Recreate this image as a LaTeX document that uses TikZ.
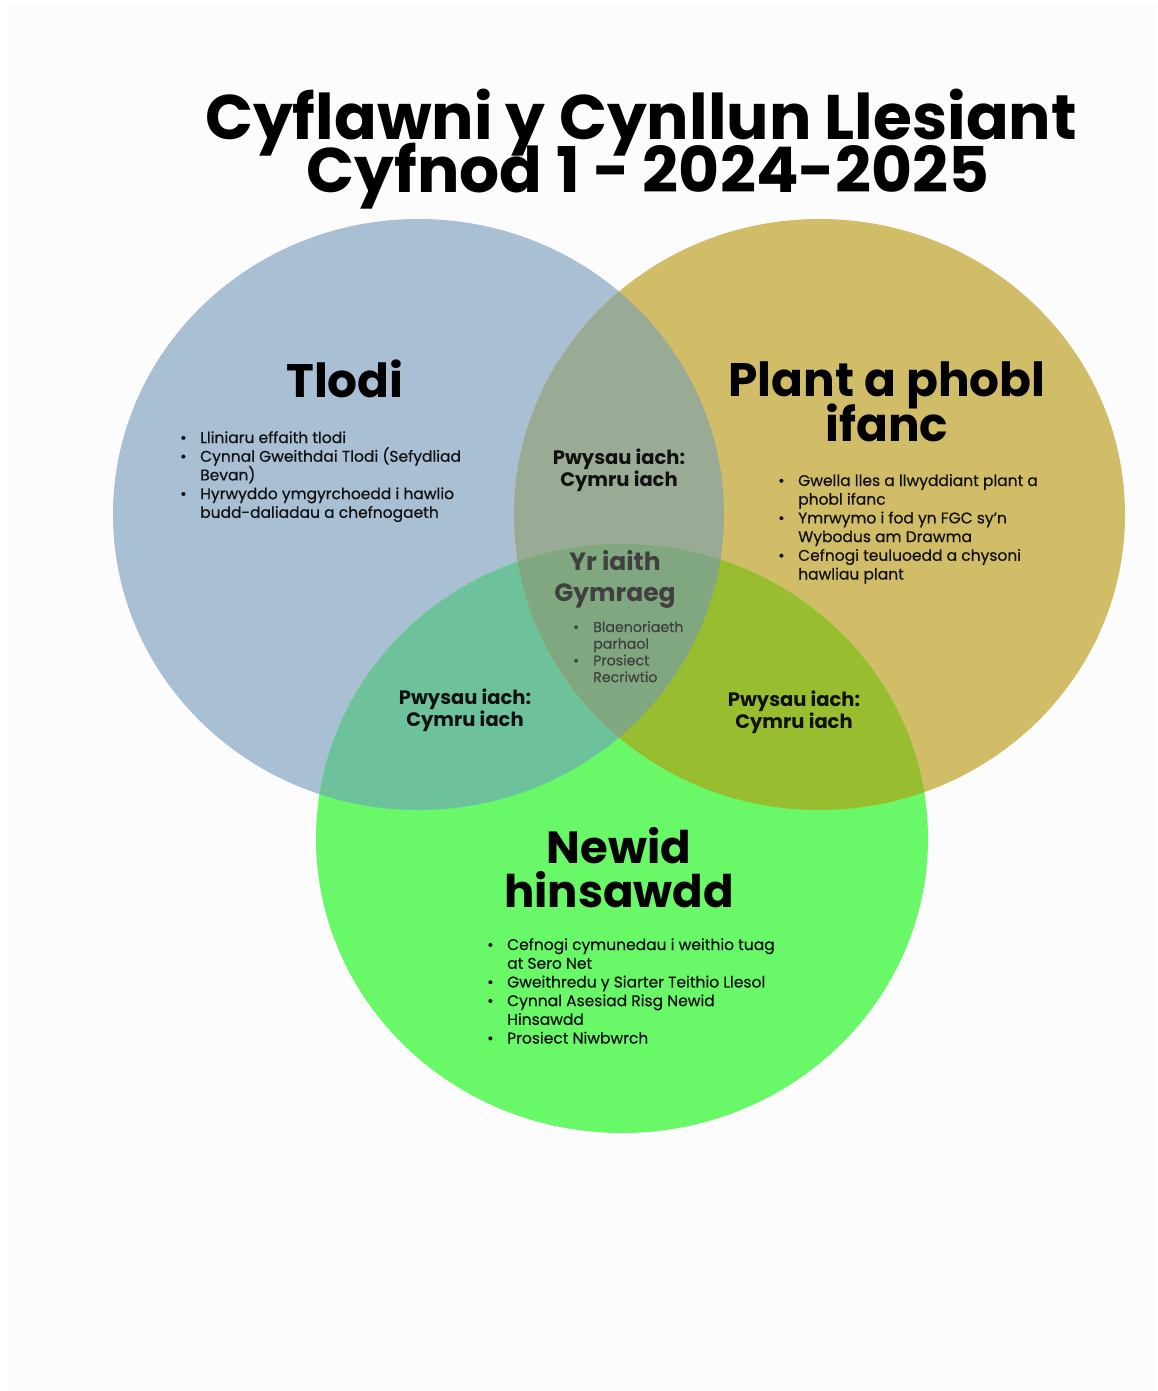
\documentclass[tikz,border=0pt]{standalone}
\usepackage{fontspec}
\setmainfont{Poppins}
\newfontfamily\bodyf{Poppins}[FakeBold=0.6]
\definecolor{bgc}{HTML}{FCFCFC}
\definecolor{cblue}{HTML}{A9BFD3}
\definecolor{cgold}{HTML}{D1BD68}
\definecolor{cgreen}{HTML}{68F868}
\definecolor{cbg}{HTML}{9AAB95}
\definecolor{cbgr}{HTML}{6DC29B}
\definecolor{cggr}{HTML}{98BD2F}
\definecolor{cmid}{HTML}{80A77F}
\definecolor{ctxt}{HTML}{111111}
\definecolor{cgray}{HTML}{404040}
\newcommand\bl[1]{\makebox[20pt][l]{\textbullet}#1}
\newcommand\cl[1]{\hspace*{20pt}#1}
\newcommand\tight{\lineskiplimit=-200pt\lineskip=0pt}
\tikzset{
  head/.style={font=\fontsize{47}{45}\selectfont\bfseries\tight, align=center, text=black, inner sep=0pt},
  pw/.style={font=\fontsize{19.5}{22}\selectfont\bfseries\tight, align=center, text=ctxt, inner sep=0pt},
  lst/.style={font=\bodyf\fontsize{15.5}{18.7}\selectfont\tight, align=left, text=ctxt, inner sep=0pt, anchor=north west},
}
\begin{document}
\begin{tikzpicture}[x=1pt,y=-1pt]
\useasboundingbox (0,0) rectangle (1157,1391);
\fill[white] (0,0) rectangle (1157,1391);
\fill[bgc] (8,5) rectangle (1157,1391);
% circles
\def\B{(418.5,514.5) ellipse [x radius=305.5, y radius=295.5]}
\def\G{(819.5,514.5) ellipse [x radius=305.5, y radius=295.5]}
\def\N{(622,838.5) ellipse [x radius=306, y radius=294.5]}
\fill[cblue] \B;
\fill[cgold] \G;
\fill[cgreen] \N;
\begin{scope}\clip \B; \fill[cbg] \G; \end{scope}
\begin{scope}\clip \B; \fill[cbgr] \N; \end{scope}
\begin{scope}\clip \G; \fill[cggr] \N; \end{scope}
\begin{scope}\clip \B; \clip \G; \fill[cmid] \N; \end{scope}
% title
\node[font=\fontsize{63}{53}\selectfont\bfseries\tight, align=center, anchor=base, inner sep=0pt] (title) at (641,193) {Cyflawni y Cynllun Llesiant\\\hspace*{14pt}Cyfnod 1 - 2024-2025};
% headings
\node[head, anchor=base] (tlodi) at (345,397) {Tlodi};
\node[head, anchor=base] (plant) at (887,441) {Plant a phobl\\ifanc};
\node[head, font=\fontsize{45}{44}\selectfont\bfseries\tight, anchor=base] (newid) at (619,907) {Newid\\hinsawdd};
\node[font=\fontsize{25}{31}\selectfont\bfseries\tight, align=center, text=cgray, inner sep=0pt, anchor=base] (iaith) at (615,601) {Yr iaith\\Gymraeg};
% pwysau
\node[pw, anchor=base] (pw1) at (619,486) {Pwysau iach:\\Cymru iach};
\node[pw, anchor=base] (pw2) at (465,726) {Pwysau iach:\\Cymru iach};
\node[pw, anchor=base] (pw3) at (794,728) {Pwysau iach:\\Cymru iach};
% lists
\node[lst] (l1) at (180,431) {\bl{Lliniaru effaith tlodi}\\\bl{Cynnal Gweithdai Tlodi (Sefydliad}\\\cl{Bevan)}\\\bl{Hyrwyddo ymgyrchoedd i hawlio}\\\cl{budd-daliadau a chefnogaeth}};
\node[lst] (l2) at (778,474) {\bl{Gwella lles a llwyddiant plant a}\\\cl{phobl ifanc}\\\bl{Ymrwymo i fod yn FGC sy’n}\\\cl{Wybodus am Drawma}\\\bl{Cefnogi teuluoedd a chysoni}\\\cl{hawliau plant}};
\node[lst] (l3) at (487,938) {\bl{Cefnogi cymunedau i weithio tuag}\\\cl{at Sero Net}\\\bl{Gweithredu y Siarter Teithio Llesol}\\\bl{Cynnal Asesiad Risg Newid}\\\cl{Hinsawdd}\\\bl{Prosiect Niwbwrch}};
\node[lst, font=\bodyf\fontsize{14.2}{16.7}\selectfont\tight, text=cgray] (l4) at (573,621) {\bl{Blaenoriaeth}\\\cl{parhaol}\\\bl{Prosiect}\\\cl{Recriwtio}};
\end{tikzpicture}
\end{document}
